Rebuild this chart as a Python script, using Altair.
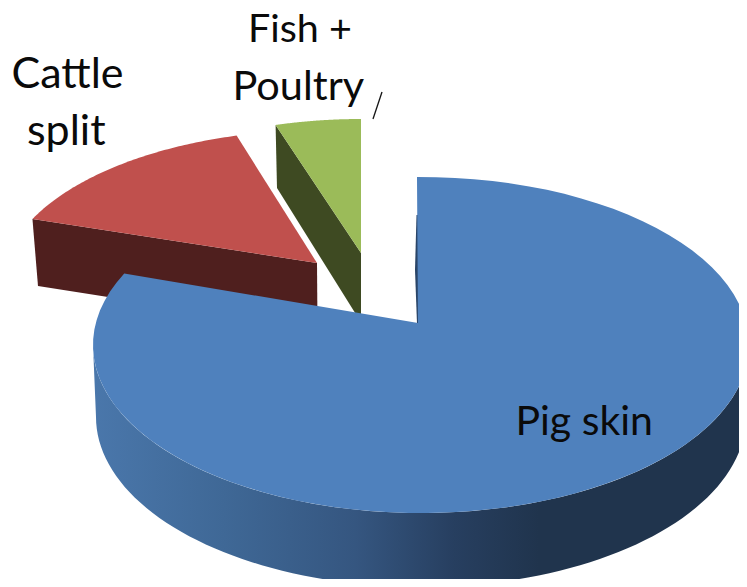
import numpy as np
import pandas as pd
import altair as alt

# values
categories = ["Pig skin", "Cattle split", "Fish + Poultry"]
shares = [82.0, 13.7, 4.3]

# layout (page pixels)
LAYOUT = {
    "Pig skin": dict(cx=421, cy=345, a=328, b=168, apex=(418, 323), lead=-0.7),
    "Cattle split": dict(cx=322, cy=285, a=320, b=155, apex=(317, 263), lead=0),
    "Fish + Poultry": dict(cx=361, cy=284, a=320, b=165, apex=(361, 253), lead=0),
}
LABELS = [("Cattle", 11.5, 88, 43), ("split", 27, 145, 43), ("Fish +", 248, 42, 39.5),
          ("Poultry", 232.5, 100, 41.5), ("Pig skin", 515.5, 435, 41)]
FONT = "Lato"

X = alt.Scale(domain=[8, 739], nice=False, zero=False)
Y = alt.Scale(domain=[579, 8], nice=False, zero=False)


def polygon(pts, fill):
    df = pd.DataFrame(pts, columns=["x", "y"])
    df["i"] = range(len(df))
    return alt.Chart(df).mark_line(fill=fill, stroke=None, strokeWidth=0, interpolate="linear").encode(
        x=alt.X("x:Q", scale=X, axis=None),
        y=alt.Y("y:Q", scale=Y, axis=None),
        order=alt.Order("i:Q"),
    )


def arc(cx, cy, a, b, t0, t1, n=90):
    t = np.radians(np.linspace(t0, t1, n))
    return list(zip(cx + a * np.sin(t), cy - b * np.cos(t)))


# angular extents from shares
edges = np.concatenate([[0], np.cumsum(shares)]) * 360 / sum(shares)
ext = {c: (edges[i], edges[i + 1]) for i, c in enumerate(categories)}


def top_face(cat):
    g = LAYOUT[cat]
    t0, t1 = ext[cat]
    return [g["apex"]] + arc(g["cx"], g["cy"], g["a"], g["b"], t0 + g["lead"], t1)


# cattle slice
cat = top_face("Cattle split")
cattle_wall = polygon([(cat[1][0], cat[1][1]), (317, 263), (317.5, 330), (38, 286)], "#4f1f1e")
cattle_top = polygon(cat, "#c0504d")

# fish slice
fish = top_face("Fish + Poultry")
fish_wall = polygon([(fish[1][0], fish[1][1]), (361, 253), (361, 316), (357, 316), (277, 188)], "#3e4a22")
fish_top = polygon(fish, "#9bbb59")

# pig slice
pig = LAYOUT["Pig skin"]
wall_pts = arc(pig["cx"], pig["cy"], pig["a"], pig["b"], 90, 270) + \
    arc(pig["cx"], pig["cy"] + 72, 325, 170, 270, 90)
wall_fill = alt.Gradient(
    gradient="linear", x1=0, x2=1, y1=0, y2=0,
    stops=[
        alt.GradientStop(offset=0.0, color="#4a77ab"),
        alt.GradientStop(offset=0.2, color="#3f6896"),
        alt.GradientStop(offset=0.4, color="#355680"),
        alt.GradientStop(offset=0.55, color="#273f60"),
        alt.GradientStop(offset=0.68, color="#20344d"),
        alt.GradientStop(offset=1.0, color="#20344d"),
    ],
)
pig_wall = polygon(wall_pts, wall_fill)
pig_inner = polygon([(416.5, 215), (415, 270), (417, 324), (419.5, 324), (418, 215)], "#2a4568")
pig_top = polygon(top_face("Pig skin"), "#4f81bd")

# labels and leader
labels_df = pd.DataFrame(LABELS, columns=["t", "x", "y", "s"])
labels = alt.Chart(labels_df).mark_text(
    font=FONT, align="left", baseline="alphabetic", color="#0a0a0a"
).encode(
    x=alt.X("x:Q", scale=X, axis=None),
    y=alt.Y("y:Q", scale=Y, axis=None),
    text="t:N",
    size=alt.Size("s:Q", scale=None),
)

leader_df = pd.DataFrame([(373, 119), (382, 92)], columns=["x", "y"])
leader = alt.Chart(leader_df).mark_line(color="#111111", strokeWidth=1.3).encode(
    x=alt.X("x:Q", scale=X, axis=None), y=alt.Y("y:Q", scale=Y, axis=None)
)

chart = alt.layer(
    cattle_wall, cattle_top, fish_wall, fish_top, pig_wall, pig_inner, pig_top, labels, leader
).properties(
    width=731, height=571, padding=0, background="white",
    autosize=alt.AutoSizeParams(type="none"),
).configure_view(stroke=None)

chart.save("out.html", embed_options={"renderer": "svg", "actions": False})
